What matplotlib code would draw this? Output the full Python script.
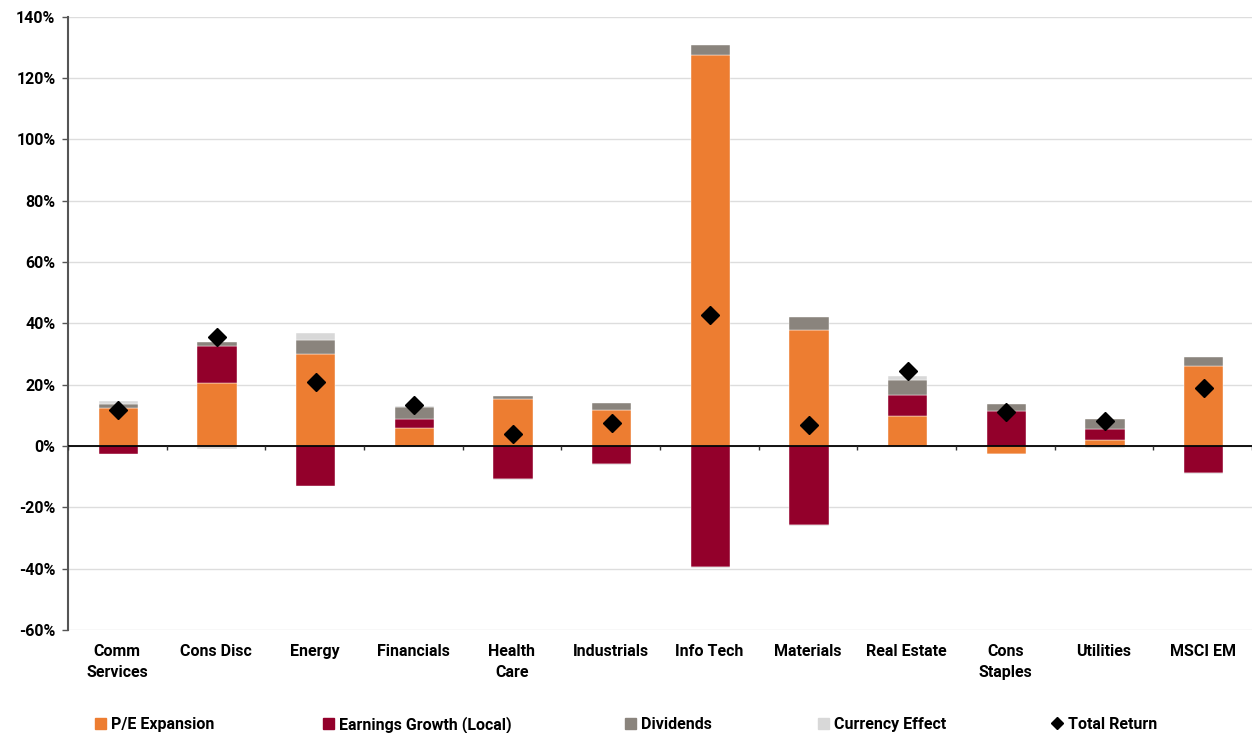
import matplotlib.pyplot as plt
import numpy as np
from matplotlib.patches import Patch
from matplotlib.lines import Line2D

plt.rcParams['font.family'] = ['Roboto', 'DejaVu Sans']
plt.rcParams['font.weight'] = 'bold'

# data (%)
categories = ["Comm\nServices", "Cons Disc", "Energy", "Financials", "Health\nCare",
              "Industrials", "Info Tech", "Materials", "Real Estate", "Cons\nStaples",
              "Utilities", "MSCI EM"]
pe_expansion = [12.3, 20.7, 29.9, 5.8, 15.3, 11.8, 127.4, 37.9, 9.9, -2.5, 2.0, 26.1]
earnings_growth = [-2.7, 12.1, -13.1, 3.1, -10.6, -5.8, -39.4, -25.7, 6.7, 11.5, 3.6, -8.8]
dividends = [1.5, 1.1, 4.7, 3.9, 1.0, 2.4, 3.5, 4.1, 4.8, 2.1, 3.1, 3.0]
currency = [0.9, -0.8, 2.3, 0.3, -0.4, -0.3, -0.3, -0.3, 1.3, -0.2, -0.5, -0.2]
total_return = [11.7, 35.6, 20.9, 13.4, 3.8, 7.4, 42.7, 6.8, 24.5, 11.2, 8.2, 18.8]

series = [
    ("P/E Expansion", pe_expansion, "#ED7D31"),
    ("Earnings Growth (Local)", earnings_growth, "#93002B"),
    ("Dividends", dividends, "#8A847D"),
    ("Currency Effect", currency, "#D8D8D8"),
]

fig = plt.figure(figsize=(12.52, 7.33), dpi=100)
ax = fig.add_axes([0.0543, 0.1405, 0.9457, 0.8365])

x = np.arange(len(categories))
pos_base = np.zeros(len(categories))
neg_base = np.zeros(len(categories))
for name, vals, col in series:
    v = np.array(vals)
    base = np.where(v >= 0, pos_base, neg_base)
    ax.bar(x + 0.01, v, bottom=base, width=0.4, color=col, edgecolor="white",
           linewidth=0.3, zorder=3)
    pos_base += np.where(v >= 0, v, 0)
    neg_base += np.where(v < 0, v, 0)

ax.plot(x + 0.01, total_return, linestyle="none", marker="D", markersize=9,
        color="black", zorder=5)

ax.set_xlim(-0.5, len(categories) - 0.5)
ax.set_ylim(-60, 140)
ax.set_yticks(np.arange(-60, 141, 20))
ax.set_yticklabels([f"{t}%" for t in range(-60, 141, 20)], fontsize=11.5, fontweight="bold")
ax.yaxis.grid(True, color="#DDDDDD", linewidth=1, zorder=0)
ax.set_axisbelow(True)

ax.set_xticks(x)
ax.set_xticklabels(categories, fontsize=11.5, fontweight="bold", linespacing=1.5)
ax.tick_params(axis="x", length=0, pad=10)
ax.tick_params(axis="y", length=4, color="#555555", width=1, pad=5)

for s in ["top", "right", "bottom"]:
    ax.spines[s].set_visible(False)
ax.spines["left"].set_color("#555555")
ax.spines["left"].set_linewidth(1.5)

ax.axhline(0, color="black", linewidth=1.3, zorder=4)
ax.vlines(np.arange(len(categories) + 1) - 0.5, -1.3, 0, color="#333333",
          linewidth=1, zorder=4)

# legend entries placed individually
handles = [Patch(color=c) for _, _, c in series] + [
    Line2D([], [], linestyle="none", marker="D", color="black", markersize=6)]
labels = [n for n, _, _ in series] + ["Total Return"]
xpos = [0.071, 0.253, 0.494, 0.648, 0.835]
for h, lab, xp in zip(handles, labels, xpos):
    fig.legend([h], [lab], loc="center left", bbox_to_anchor=(xp, 0.012),
               frameon=False, handlelength=0.7, handleheight=0.7, handletextpad=0.3,
               prop={"size": 11.5, "weight": "bold"}, borderaxespad=0)

fig.savefig("out.png", dpi=100)
